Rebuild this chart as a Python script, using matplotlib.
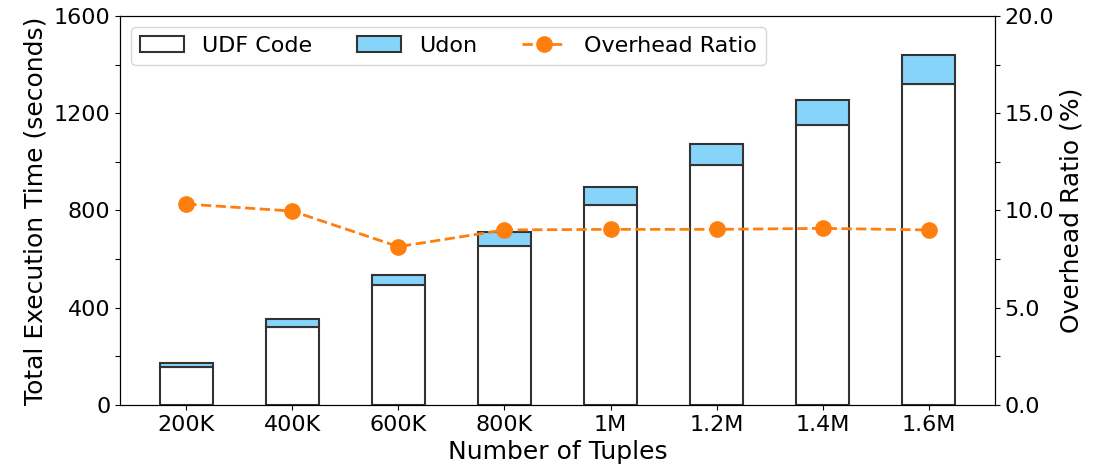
import matplotlib
matplotlib.use("Agg")
import matplotlib.pyplot as plt
from matplotlib.ticker import MultipleLocator, FormatStrFormatter
import numpy as np

categories = ["200K", "400K", "600K", "800K", "1M", "1.2M", "1.4M", "1.6M"]
udf_code = [158, 322, 492, 654, 821, 986, 1152, 1320]
udon = [15, 32, 41, 59, 74, 89, 104, 118]
overhead_ratio = [10.33, 9.97, 8.14, 9.0, 9.03, 9.03, 9.08, 9.0]

fig = plt.figure(figsize=(11.07, 4.69), dpi=100)
ax = fig.add_axes([0.1084, 0.1365, 0.7904, 0.8294])
x = np.arange(len(categories))

edge = "#333333"
b1 = ax.bar(x, udf_code, width=0.5, color="white", edgecolor=edge, linewidth=1.5, label="UDF Code")
b2 = ax.bar(x, udon, width=0.5, bottom=udf_code, color="#87d4fb", edgecolor=edge, linewidth=1.5, label="Udon")

ax.set_ylim(0, 1600)
ax.yaxis.set_major_locator(MultipleLocator(400))
ax.yaxis.set_minor_locator(MultipleLocator(200))
ax.tick_params(axis="y", which="minor", length=3.5, width=0.8)
ax.set_xticks(x)
ax.set_xticklabels(categories)
ax.tick_params(labelsize=16)
ax.set_xlabel("Number of Tuples", fontsize=18, labelpad=4)
ax.set_ylabel("Total Execution Time (seconds)", fontsize=18)

ax2 = ax.twinx()
l1, = ax2.plot(x, overhead_ratio, color="#ff7f0e", linestyle="--", linewidth=2, marker="o", markersize=11, label="Overhead Ratio")
ax2.set_ylim(0, 20)
ax2.yaxis.set_major_locator(MultipleLocator(5))
ax2.yaxis.set_minor_locator(MultipleLocator(2.5))
ax2.yaxis.set_major_formatter(FormatStrFormatter("%.1f"))
ax2.tick_params(axis="y", which="minor", length=3.5, width=0.8)
ax2.tick_params(labelsize=16)
ax2.set_ylabel("Overhead Ratio (%)", fontsize=18)

ax.legend([b1, b2, l1], ["UDF Code", "Udon", "Overhead Ratio"], loc="upper left", ncol=3,
          fontsize=16, columnspacing=2.0, handlelength=2.0)

fig.savefig("out.png", dpi=100)
